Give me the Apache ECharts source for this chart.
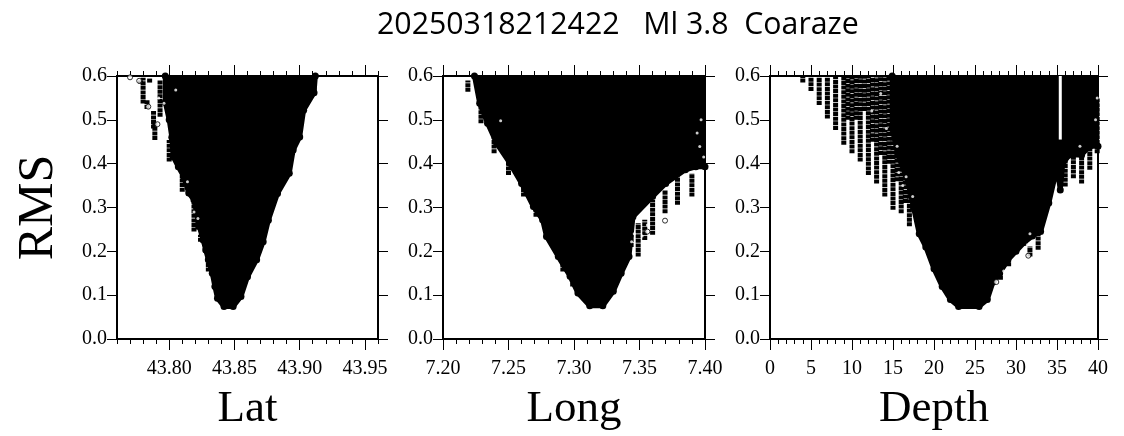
<!DOCTYPE html>
<html>
<head>
<meta charset="utf-8">
<title>20250318212422 Ml 3.8 Coaraze</title>
<script src="https://cdn.jsdelivr.net/npm/echarts@6/dist/echarts.min.js"></script>
<style>
html, body { margin: 0; padding: 0; background: #fff; }
#main { width: 1124px; height: 436px; filter: blur(0.5px); }
</style>
</head>
<body>
<div id="main"></div>
<script>
// lower edge of the solid black cloud, [x, rms]
const latEnvelope = [[43.797,.6],[43.797,.54],[43.800,.50],[43.802,.46],[43.803,.416],[43.807,.393],[43.811,.371],[43.815,.333],[43.819,.317],[43.821,.287],[43.823,.257],[43.826,.226],[43.828,.203],[43.830,.181],[43.833,.150],[43.835,.120],[43.837,.093],[43.842,.0744],[43.849,.0744],[43.855,.097],[43.860,.142],[43.867,.181],[43.872,.222],[43.876,.271],[43.883,.332],[43.892,.378],[43.895,.431],[43.900,.461],[43.903,.522],[43.911,.562],[43.912,.6]];
const longEnvelope = [[7.224,.6],[7.228,.538],[7.234,.492],[7.241,.446],[7.251,.401],[7.260,.355],[7.269,.302],[7.276,.272],[7.279,.234],[7.288,.188],[7.297,.143],[7.303,.105],[7.312,.076],[7.322,.076],[7.330,.109],[7.336,.150],[7.342,.188],[7.345,.279],[7.360,.325],[7.370,.355],[7.385,.386],[7.393,.393],[7.40,.393]];
const depthEnvelope = [[14.9,.6],[14.9,.48],[15.6,.42],[16.8,.36],[17.5,.30],[18.2,.24],[19,.21],[20,.16],[21,.12],[22,.09],[23,.0744],[25.5,.0744],[26.5,.09],[27.2,.13],[28,.15],[29,.18],[30,.2],[31,.22],[32,.235],[33,.245],[34,.31],[35,.39],[35.4,.34],[35.7,.40],[36.5,.42],[38,.42],[39,.44],[40,.44]];

// columns of circles hanging off the cloud, [x, low rms, high rms]
const latDrips = [[43.780,.537,.596],[43.783,.525,.545],[43.789,.454,.496],[43.788,.48,.52],[43.778,.583,.59],[43.785,.585,.595],[43.793,.507,.59],[43.800,.405,.454],[43.810,.336,.374],[43.819,.245,.31],[43.822,.25,.28],[43.824,.222,.238],[43.830,.154,.188],[43.911,.564,.59],[43.899,.454,.488],[43.890,.378,.393]];
const longDrips = [[7.219,.564,.59],[7.229,.492,.538],[7.239,.424,.469],[7.250,.374,.424],[7.2615,.325,.363],[7.271,.279,.325],[7.2915,.154,.196],[7.299,.12,.143],[7.3695,.287,.34],[7.379,.306,.371],[7.39,.325,.378],[7.36,.238,.317],[7.354,.226,.272],[7.349,.188,.264],[7.3436,.21,.27],[7.397,.393,.52]];
const depthDrips = [[4,.585,.6],[5,.566,.6],[6,.534,.6],[7,.503,.6],[8,.477,.6],[9,.443,.6],[10,.424,.6],[11,.405,.6],[12,.374,.6],[13,.355,.6],[14,.325,.6],[15,.295,.6],[16,.287,.6],[17,.257,.6],[9.5,.5,.6],[10.5,.5,.6],[11.5,.52,.6],[12.5,.45,.6],[13.5,.42,.6],[14.5,.40,.6],[15.5,.36,.6],[16.5,.31,.6],[29.1,.166,.2035],[28.1,.135,.15],[31.7,.188,.211],[32.7,.2035,.241],[36,.348,.45],[37,.367,.45],[38,.355,.45],[39,.386,.45],[39.9,.424,.55]];

// lone circles outside the drips, [x, rms]
const latPoints = [[43.770,.597],[43.777,.589],[43.784,.53],[43.791,.49]];
const longPoints = [[7.3695,.27],[7.356,.245]];
const depthPoints = [[31.5,.19],[27.6,.13]];

// white specks inside the black, [x, rms]
const latHoles = [[43.7855,.56],[43.796,.538],[43.814,.359],[43.805,.568],[43.822,.275],[43.819,.29],[43.792,.55]];
const longHoles = [[7.244,.498],[7.397,.5],[7.396,.439],[7.356,.26],[7.344,.222],[7.346,.24],[7.394,.47],[7.399,.415],[7.352,.235]];
const depthHoles = [[15.7,.38],[16.2,.35],[16.6,.37],[17.4,.325],[28.5,.155],[31.4,.215],[31.7,.24],[12.4,.52],[13.5,.56],[15.5,.44],[14.2,.48],[39.7,.5],[39.9,.55],[37.8,.44]];
const depthGaps = [[35.4,.455,.6]];

const latTicks = [43.80, 43.85, 43.90, 43.95];
const longTicks = [7.20, 7.25, 7.30, 7.35, 7.40];
const depthTicks = [0, 5, 10, 15, 20, 25, 30, 35, 40];
const rmsTicks = [0, 0.1, 0.2, 0.3, 0.4, 0.5, 0.6];

const panels = [
  { name: "Lat", left: 117, width: 261, min: 43.76, max: 43.96, step: 0.01, digits: 2, ticks: latTicks, envelope: latEnvelope, drips: latDrips, points: latPoints, holes: latHoles, gaps: [] },
  { name: "Long", left: 443, width: 262, min: 7.2, max: 7.4, step: 0.01, digits: 2, ticks: longTicks, envelope: longEnvelope, drips: longDrips, points: longPoints, holes: longHoles, gaps: [] },
  { name: "Depth", left: 770, width: 328, min: 0, max: 40, step: 1, digits: 0, ticks: depthTicks, envelope: depthEnvelope, drips: depthDrips, points: depthPoints, holes: depthHoles, gaps: depthGaps }
];

const serif = "Liberation Serif";
const frame = { show: true, onZero: false, lineStyle: { color: "#000", width: 2 } };
const thin = { color: "#000", width: 1 };

function minorValues(p) {
  let out = [];
  let n = Math.round((p.max - p.min) / p.step);
  for (let i = 0; i <= n; i++) {
    out.push(+(p.min + i * p.step).toFixed(p.digits));
  }
  return out;
}

function columnItem(width, dash, color) {
  return function (params, api) {
    let a = api.coord([api.value(0), api.value(1)]);
    let b = api.coord([api.value(0), api.value(2)]);
    return {
      type: "line",
      shape: { x1: a[0], y1: a[1], x2: b[0], y2: b[1] },
      style: { stroke: color, lineWidth: width, lineDash: dash, fill: null }
    };
  };
}

const grid = [], xAxis = [], yAxis = [], series = [];

panels.forEach((p, i) => {
  grid.push({ left: p.left, top: 76, width: p.width, height: 263, outerBoundsMode: "none" });
  let base = { type: "value", gridIndex: i, min: p.min, max: p.max, splitLine: { show: false } };
  let x0 = xAxis.length;
  // bottom major ticks carry labels and name, the others are ticks only
  xAxis.push({
    ...base, position: "bottom", axisLine: frame,
    axisTick: { customValues: p.ticks, length: 11, lineStyle: thin },
    axisLabel: {
      customValues: p.ticks, margin: 20, color: "#000", fontFamily: serif, fontSize: 20,
      formatter: v => v.toFixed(p.digits)
    },
    name: p.name, nameLocation: "middle", nameGap: 48,
    nameTextStyle: { color: "#000", fontFamily: serif, fontSize: 45 }
  });
  xAxis.push({
    ...base, position: "bottom", axisLine: frame,
    axisTick: { customValues: minorValues(p), length: 5, lineStyle: thin },
    axisLabel: { show: false }
  });
  xAxis.push({
    ...base, position: "top", axisLine: frame,
    axisTick: { customValues: p.ticks, length: 11, lineStyle: thin },
    axisLabel: { show: false }
  });
  xAxis.push({
    ...base, position: "top", axisLine: frame,
    axisTick: { customValues: minorValues(p), length: 5, lineStyle: thin },
    axisLabel: { show: false }
  });
  let yBase = { type: "value", gridIndex: i, min: 0, max: 0.6, splitLine: { show: false }, axisLine: frame };
  let y0 = yAxis.length;
  yAxis.push({
    ...yBase, position: "left",
    axisTick: { customValues: rmsTicks, length: 10, lineStyle: thin },
    axisLabel: {
      customValues: rmsTicks, margin: 10, color: "#000", fontFamily: serif, fontSize: 20,
      formatter: v => v.toFixed(1)
    },
    ...(i === 0 ? {
      name: "RMS", nameLocation: "middle", nameGap: 53, nameRotate: 90,
      nameTextStyle: { color: "#000", fontFamily: serif, fontSize: 50 }
    } : {})
  });
  yAxis.push({
    ...yBase, position: "right",
    axisTick: { customValues: rmsTicks, length: 10, lineStyle: thin },
    axisLabel: { show: false }
  });

  let on = { xAxisIndex: x0, yAxisIndex: y0, silent: true, animation: false };
  series.push({
    ...on, type: "line", data: p.envelope, showSymbol: true, symbol: "circle", symbolSize: 7, z: 2,
    itemStyle: { color: "#000" },
    lineStyle: { color: "#000", width: 5 },
    areaStyle: { color: "#000", opacity: 1, origin: "end" }
  });
  series.push({
    ...on, type: "custom", coordinateSystem: "cartesian2d", data: p.drips, z: 3,
    encode: { x: 0, y: [1, 2] }, renderItem: columnItem(5, [4, 0.6], "#000")
  });
  series.push({
    ...on, type: "scatter", data: p.points, z: 3, symbol: "circle", symbolSize: 5,
    itemStyle: { color: "#fff", borderColor: "#000", borderWidth: 1 }
  });
  series.push({
    ...on, type: "scatter", data: p.holes, z: 4, symbol: "circle", symbolSize: 3,
    itemStyle: { color: "#fff" }
  });
  series.push({
    ...on, type: "custom", coordinateSystem: "cartesian2d", data: p.gaps, z: 4,
    encode: { x: 0, y: [1, 2] }, renderItem: columnItem(3, null, "#fff")
  });
});

const myChart = echarts.init(document.getElementById("main"));
myChart.setOption({
  backgroundColor: "#fff",
  animation: false,
  title: {
    text: "20250318212422   Ml 3.8  Coaraze",
    left: 377, top: 10, padding: 0,
    textStyle: { color: "#000", fontFamily: "Open Sans", fontSize: 30.3, fontWeight: "normal" }
  },
  grid, xAxis, yAxis, series
});
</script>
</body>
</html>
